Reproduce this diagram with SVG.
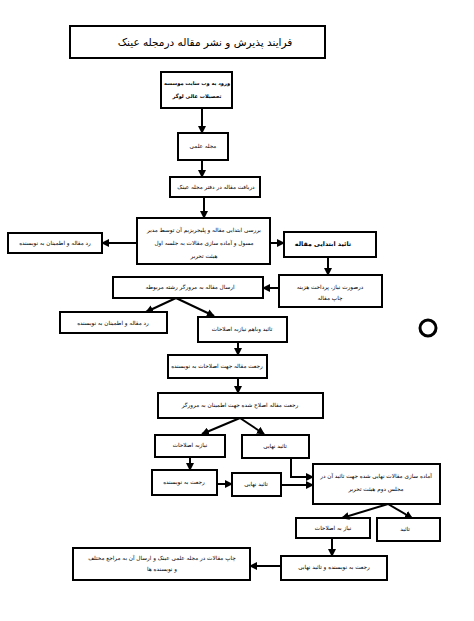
<svg xmlns="http://www.w3.org/2000/svg" width="474" height="621" viewBox="0 0 474 621">
<defs>
<style>
.box{fill:#fff;stroke:#000;stroke-width:2}
.t{font-family:"DejaVu Sans",sans-serif;font-size:5.7px;text-anchor:middle;direction:rtl;fill:#000}
.b{font-weight:bold}
.ln{stroke:#000;stroke-width:2;fill:none}
</style>
<marker id="ah" markerUnits="userSpaceOnUse" markerWidth="8" markerHeight="8" refX="7" refY="4" orient="auto">
<path d="M0,0 L8,4 L0,8 z" fill="#000"/>
</marker>
</defs>
<rect width="474" height="621" fill="#fff"/>

<g id="title">
<rect x="70" y="26" width="255" height="32" class="box" stroke-width="2.5"/>
<text x="205" y="46" class="t" style="font-size:10.5px">فرایند پذیرش و نشر مقاله درمجله عینک</text>
</g>

<g id="n1">
<rect x="161" y="72" width="71" height="36" class="box"/>
<text x="197" y="85" class="t b" style="font-size:5.1px">ورود به وب سایت موسسه</text>
<text x="197" y="98" class="t b" style="font-size:5.1px">تحصیلات عالی لوگر</text>
</g>

<g id="n2">
<rect x="178" y="133" width="50" height="27" class="box"/>
<text x="203" y="148" class="t">مجله علمی</text>
</g>

<g id="n3">
<rect x="170" y="177" width="90" height="20" class="box"/>
<text x="216" y="189" class="t">دریافت مقاله در دفتر مجله عینک</text>
</g>

<g id="n4">
<rect x="137" y="218" width="133" height="46" class="box"/>
<text x="204" y="232" class="t">بررسی ابتدایی مقاله و پلیجریزیم آن توسط مدیر</text>
<text x="204" y="245" class="t">مسول و آماده سازی مقالات به جلسه اول</text>
<text x="204" y="258" class="t">هیئت تحریر</text>
</g>

<g id="n5">
<rect x="8" y="233" width="94" height="20" class="box"/>
<text x="55" y="245" class="t">رد مقاله و اطمینان به نویسنده</text>
</g>

<g id="n6">
<rect x="284" y="232" width="92" height="25" class="box"/>
<text x="323" y="246" class="t b" style="font-size:6.3px">تائید ابتدایی مقاله</text>
</g>

<g id="n7">
<rect x="279" y="275" width="103" height="32" class="box"/>
<text x="330" y="289" class="t">درصورت نیاز، پرداخت هزینه</text>
<text x="330" y="300" class="t">چاپ مقاله</text>
</g>

<g id="n8">
<rect x="113" y="277" width="150" height="21" class="box"/>
<text x="190" y="289" class="t">ارسال مقاله به مرورگر رشته مربوطه</text>
</g>

<g id="n9">
<rect x="60" y="312" width="107" height="21" class="box"/>
<text x="113" y="325" class="t">رد مقاله و اطمینان به نویسنده</text>
</g>

<g id="n10">
<rect x="198" y="317" width="89" height="25" class="box"/>
<text x="242" y="331" class="t">تائید وباهم نیازبه اصلاحات</text>
</g>

<g id="n11">
<rect x="168" y="355" width="99" height="23" class="box"/>
<text x="217" y="368" class="t">رجعت مقاله جهت اصلاحات به نویسنده</text>
</g>

<g id="n12">
<rect x="158" y="393" width="165" height="25" class="box"/>
<text x="240" y="407" class="t">رجعت مقاله اصلاح شده جهت اطمینان به مرورگر</text>
</g>

<g id="n13">
<rect x="155" y="435" width="70" height="22" class="box"/>
<text x="190" y="447" class="t">نیازبه اصلاحات</text>
</g>

<g id="n14">
<rect x="242" y="435" width="67" height="23" class="box"/>
<text x="275" y="448" class="t">تائید نهایی</text>
</g>

<g id="n15">
<rect x="152" y="470" width="65" height="25" class="box"/>
<text x="184" y="484" class="t">رجعت به نویسنده</text>
</g>

<g id="n16">
<rect x="232" y="473" width="49" height="23" class="box"/>
<text x="256" y="486" class="t">تائید نهایی</text>
</g>

<g id="n17">
<rect x="313" y="464" width="127" height="40" class="box"/>
<text x="376" y="478" class="t">آماده سازی مقالات نهایی شده جهت تائید آن در</text>
<text x="376" y="491" class="t">مجلس دوم هیئت تحریر</text>
</g>

<g id="n18">
<rect x="296" y="518" width="74" height="20" class="box"/>
<text x="333" y="530" class="t">نیاز به اصلاحات</text>
</g>

<g id="n19">
<rect x="377" y="518" width="63" height="23" class="box"/>
<text x="405" y="531" class="t">تائید</text>
</g>

<g id="n20">
<rect x="281" y="556" width="106" height="24" class="box"/>
<text x="334" y="569" class="t">رجعت به نویسنده و تائید نهایی</text>
</g>

<g id="n21">
<rect x="73" y="548" width="177" height="32" class="box"/>
<text x="162" y="560" class="t">چاپ مقالات در مجله علمی عینک و ارسال آن به مراجع مختلف</text>
<text x="162" y="571" class="t">و نویسنده ها</text>
</g>

<g id="n22">
<circle cx="428" cy="328" r="8" fill="none" stroke="#000" stroke-width="3"/>
</g>

<g id="connectors">
<line x1="202" y1="108" x2="202" y2="133" class="ln" marker-end="url(#ah)"/>
<line x1="202" y1="160" x2="202" y2="177" class="ln" marker-end="url(#ah)"/>
<line x1="204" y1="197" x2="204" y2="218" class="ln" marker-end="url(#ah)"/>
<line x1="137" y1="243" x2="102" y2="243" class="ln" marker-end="url(#ah)"/>
<line x1="270" y1="243" x2="284" y2="243" class="ln" marker-end="url(#ah)"/>
<line x1="328" y1="257" x2="328" y2="275" class="ln" marker-end="url(#ah)"/>
<line x1="279" y1="288" x2="263" y2="288" class="ln" marker-end="url(#ah)"/>
<line x1="176" y1="298" x2="146" y2="312" class="ln" marker-end="url(#ah)"/>
<line x1="176" y1="298" x2="214" y2="316" class="ln" marker-end="url(#ah)"/>
<line x1="238" y1="342" x2="238" y2="355" class="ln" marker-end="url(#ah)"/>
<line x1="238" y1="378" x2="238" y2="393" class="ln" marker-end="url(#ah)"/>
<line x1="240" y1="418" x2="202" y2="434" class="ln" marker-end="url(#ah)"/>
<line x1="240" y1="418" x2="264" y2="434" class="ln" marker-end="url(#ah)"/>
<line x1="190" y1="457" x2="190" y2="470" class="ln" marker-end="url(#ah)"/>
<line x1="217" y1="484" x2="232" y2="484" class="ln" marker-end="url(#ah)"/>
<polyline points="291,458 291,477 313,477" class="ln" marker-end="url(#ah)"/>
<line x1="281" y1="485" x2="313" y2="485" class="ln" marker-end="url(#ah)"/>
<line x1="388" y1="504" x2="342" y2="518" class="ln" marker-end="url(#ah)"/>
<line x1="388" y1="504" x2="412" y2="518" class="ln" marker-end="url(#ah)"/>
<line x1="332" y1="538" x2="332" y2="556" class="ln" marker-end="url(#ah)"/>
<line x1="281" y1="566" x2="250" y2="566" class="ln" marker-end="url(#ah)"/>
</g>
</svg>
